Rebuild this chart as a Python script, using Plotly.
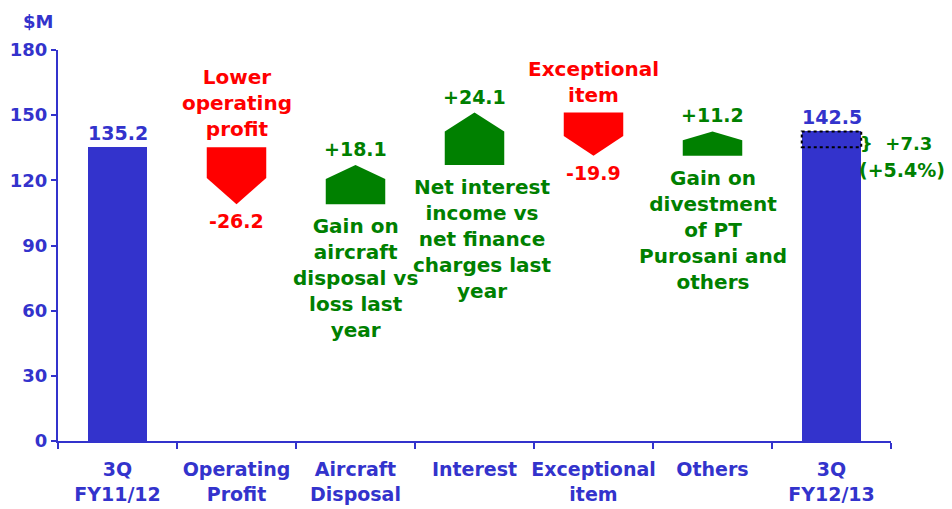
import plotly.graph_objects as go

# ---- data ----
categories = ["3Q<br>FY11/12", "Operating<br>Profit", "Aircraft<br>Disposal", "Interest",
              "Exceptional<br>item", "Others", "3Q<br>FY12/13"]
start_value = 135.2
end_value = 142.5
changes = [-26.2, 18.1, 24.1, -19.9, 11.2]
change_labels = ["-26.2", "+18.1", "+24.1", "-19.9", "+11.2"]
descriptions = [
    "Lower<br>operating<br>profit",
    "Gain on<br>aircraft<br>disposal vs<br>loss last<br>year",
    "Net interest<br>income vs<br>net finance<br>charges last<br>year",
    "Exceptional<br>item",
    "Gain on<br>divestment<br>of PT<br>Purosani and<br>others",
]
total_change_label = "}  +7.3"
total_pct_label = "(+5.4%)"
y_ticks = [0, 30, 60, 90, 120, 150, 180]
unit_label = "$M"

# ---- styles ----
BLUE = "#3333CC"
GREEN = "#008000"
RED = "#FF0000"
FONT = "DejaVu Sans"
HALF = 0.25


def font(size, color):
    return dict(family=FONT, size=size, color=color, weight="bold")


fig = go.Figure()

fig.add_trace(go.Bar(x=[0, len(categories) - 1], y=[start_value, end_value],
                     width=2 * HALF, marker=dict(color=BLUE, line=dict(width=0)),
                     hoverinfo="skip", showlegend=False))

annotations = []
base = start_value
for i, d in enumerate(changes):
    xc = i + 1
    top = base + d
    up = d > 0
    f = 0.36 if up else 0.46
    shoulder = base + d * (1 - f)
    color = GREEN if up else RED
    xs = [xc - HALF, xc + HALF, xc + HALF, xc, xc - HALF, xc - HALF]
    ys = [base, base, shoulder, top, shoulder, base]
    fig.add_trace(go.Scatter(x=xs, y=ys, fill="toself", fillcolor=color, mode="lines",
                             line=dict(color=color, width=0), hoverinfo="skip",
                             showlegend=False))
    hi, lo = max(base, top), min(base, top)
    annotations.append(dict(x=xc, y=top, text=change_labels[i], showarrow=False,
                            yanchor="bottom" if up else "top",
                            yshift=3 if up else -4,
                            font=font(19, color)))
    annotations.append(dict(x=xc, y=lo if up else hi, text=descriptions[i], showarrow=False,
                            yanchor="top" if up else "bottom",
                            yshift=-8 if up else 4,
                            xshift=7 if i == 2 else 0,
                            font=font(20, color)))
    base = top

n = len(categories)
for xv, v in [(0, start_value), (n - 1, end_value)]:
    annotations.append(dict(x=xv, y=v, text=f"{v:.1f}", showarrow=False, yanchor="bottom",
                            yshift=1, font=font(19, BLUE)))

fig.add_shape(type="rect", x0=n - 1 - HALF, x1=n - 1 + HALF, y0=start_value, y1=end_value,
              xref="x", yref="y", line=dict(color="black", width=2, dash="dot"))
annotations.append(dict(x=n - 1 + HALF, y=(start_value + end_value) / 2, text=total_change_label,
                        showarrow=False, xanchor="left", xshift=-3, yshift=-4,
                        font=font(18, GREEN)))
annotations.append(dict(x=n - 1 + HALF, y=(start_value + end_value) / 2, text=total_pct_label,
                        showarrow=False, xanchor="left", xshift=-4, yshift=-31,
                        font=font(19, GREEN)))
annotations.append(dict(x=0, xref="paper", y=1, yref="paper", text=unit_label, showarrow=False,
                        xanchor="right", yanchor="bottom", xshift=-3, yshift=16,
                        font=font(18, BLUE)))

fig.update_layout(
    width=952, height=509,
    margin=dict(l=58, r=61, t=50, b=68, autoexpand=False),
    plot_bgcolor="white", paper_bgcolor="white",
    annotations=annotations,
    bargap=0,
)
fig.update_xaxes(
    range=[-0.5, n - 0.5], tickmode="array", tickvals=list(range(n)), ticktext=categories,
    ticks="", showgrid=False, zeroline=False, showline=True, linecolor=BLUE, linewidth=2,
    tickfont=font(19, BLUE), ticklabelstandoff=10, automargin=False,
    minor=dict(tickmode="array", tickvals=[k - 0.5 for k in range(n + 1)], ticks="outside",
               ticklen=6, tickcolor=BLUE, tickwidth=2, showgrid=False),
    fixedrange=True,
)
fig.update_yaxes(
    range=[0, 180], tickmode="array", tickvals=y_ticks, ticks="outside", ticklen=5,
    tickcolor=BLUE, tickwidth=2, showgrid=False, zeroline=False, showline=True,
    linecolor=BLUE, linewidth=2, tickfont=font(18, BLUE), automargin=False,
    fixedrange=True,
)

fig.write_html("out.html", config={"displayModeBar": False},
               post_script="document.body.style.margin='0';document.body.style.overflow='hidden';")
